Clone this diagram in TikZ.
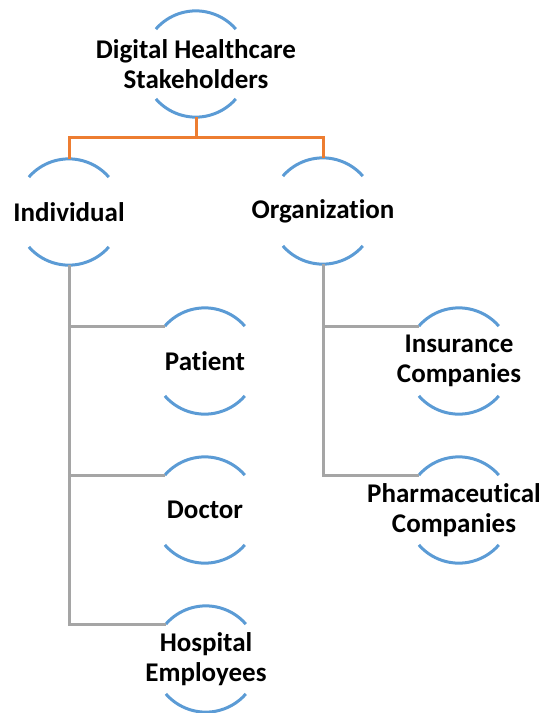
\documentclass[tikz,border=0pt]{standalone}
\usepackage{fontspec}
\setmainfont{Carlito}[Ligatures={NoCommon}]
\definecolor{arcblue}{HTML}{5B9BD5}
\definecolor{linkorange}{HTML}{ED7D31}
\definecolor{linkgray}{HTML}{A5A5A5}
\begin{document}
\begin{tikzpicture}[x=1pt,y=1pt,
  member/.style={circle,minimum size=106pt,inner sep=0pt},
  caption/.style={inner sep=0pt,align=center,
    font=\fontsize{27}{30}\selectfont\bfseries,text=black},
  toplink/.style={draw=linkorange,line width=3pt},
  sublink/.style={draw=linkgray,line width=3pt},
  ring/.style={draw=arcblue,line width=3pt}]
\useasboundingbox (0,0) rectangle (541,-713);

% members of the hierarchy (fixed-size circles)
\node[member] (root) at (196,-64) {};
\node[member] (ind) at (69,-212) {};
\node[member] (org) at (323,-211) {};
\node[member] (pat) at (205,-361) {};
\node[member] (doc) at (205,-510) {};
\node[member] (hos) at (206,-659) {};
\node[member] (ins) at (459,-361) {};
\node[member] (pha) at (459,-510) {};

% their captions
\node[caption] (rootT) at (root) {Digital Healthcare\\Stakeholders};
\node[caption] (indT) at (ind) {Individual};
\node[caption] (orgT) at (org) {Organization};
\node[caption] (patT) at (pat) {Patient};
\node[caption] (docT) at (doc) {Doctor};
\node[caption] (hosT) at (hos) {Hospital\\Employees};
\node[caption] (insT) at (ins) {Insurance\\Companies};
\node[caption] (phaT) at (454,-510) {Pharmaceutical\\Companies};

% split ring around each member
\foreach \n in {root,ind,org,pat,doc,hos,ins,pha}{
  \draw[ring] (\n.139) arc[start angle=139,end angle=41,radius=53pt];
  \draw[ring] (\n.221) arc[start angle=221,end angle=319,radius=53pt];
}

% first level links
\coordinate (bus) at (196,-137);
\draw[toplink] (root.south) -- (bus) -| (ind.north);
\draw[toplink] (bus) -| (org.north);

% second level links
\draw[sublink] (ind.south) |- (hos.139);
\draw[sublink] (ind.south) |- (pat.139);
\draw[sublink] (ind.south) |- (doc.139);
\draw[sublink] (org.south) |- (pha.139);
\draw[sublink] (org.south) |- (ins.139);
\end{tikzpicture}
\end{document}
